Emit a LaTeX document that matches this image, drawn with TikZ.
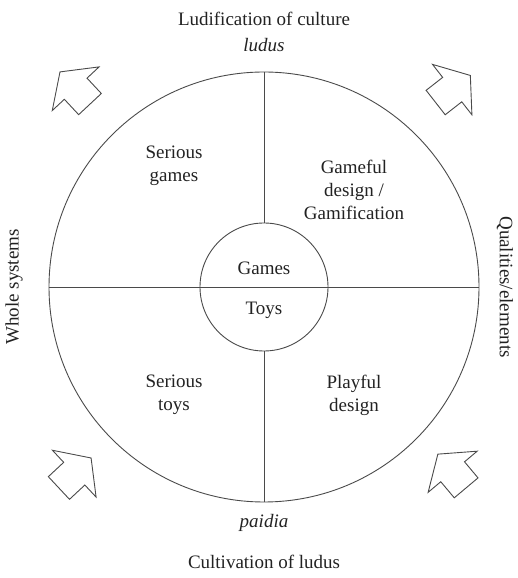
\documentclass[tikz,border=0pt]{standalone}
\usepackage{fontspec}
\setmainfont{Liberation Serif}
\usepackage{xcolor}
\usetikzlibrary{positioning}
\definecolor{ink}{HTML}{222222}
\definecolor{rim}{HTML}{4A4A4A}
\tikzset{
  ring/.style={circle,draw=rim,line width=0.9pt,inner sep=0pt},
  divider/.style={draw=rim,line width=0.9pt},
  lbl/.style={font=\fontsize{19}{23}\selectfont,text=ink,align=center,inner sep=0pt},
  pole/.style={lbl,font=\fontsize{19}{23}\selectfont\itshape},
  pics/blockarrow/.style={code={
    \draw[draw=rim,line width=0.9pt,line join=miter,fill=white]
      (22,0) -- (-1,32) -- (-1,15.5) -- (-22,15.5) -- (-22,-15.5)
      -- (-1,-15.5) -- (-1,-32) -- cycle;
  }},
}
\begin{document}
\begin{tikzpicture}[x=1pt,y=1pt]
    \useasboundingbox (0,0) rectangle (517,578);
    % the two rings and the quadrant lines
    \node[ring,minimum size=430pt] (outer) at (264,291) {};
    \node[ring,minimum size=128pt] (inner) at (outer.center) {};
    \draw[divider] (outer.west) -- (outer.east);
    \draw[divider] (outer.north) -- (inner.north);
    \draw[divider] (inner.south) -- (outer.south);
    % quadrant texts
    \node[lbl] (sgames) at (174,412) {Serious\\games};
    \node[lbl] (gameful) at (354,388) {Gameful\\design /\\Gamification};
    \node[lbl] (stoys) at (174,183) {Serious\\toys};
    \node[lbl] (playful) at (354,183) {Playful\\design};
    \node[lbl] (games) at (264,310) {Games};
    \node[lbl] (toys) at (264,268) {Toys};
    % axes
    \node[lbl] (ludif) at (264,559) {Ludification of culture};
    \node[pole] (ludus) at (264,533) {ludus};
    \node[pole] (paidia) at (264,55) {paidia};
    \node[lbl] (cultiv) at (264,16) {Cultivation of ludus};
    \node[lbl,rotate=90] (whole) at (14,291) {Whole systems};
    \node[lbl,rotate=-90] (quals) at (505,291) {Qualities/elements};
    % corner arrows
    \pic[rotate=133] (tl) at (75,490) {blockarrow};
    \pic[rotate=38] (tr) at (453,489) {blockarrow};
    \pic[rotate=43] (bl) at (75,105) {blockarrow};
    \pic[rotate=130] (br) at (452,107) {blockarrow};
\end{tikzpicture}
\end{document}
